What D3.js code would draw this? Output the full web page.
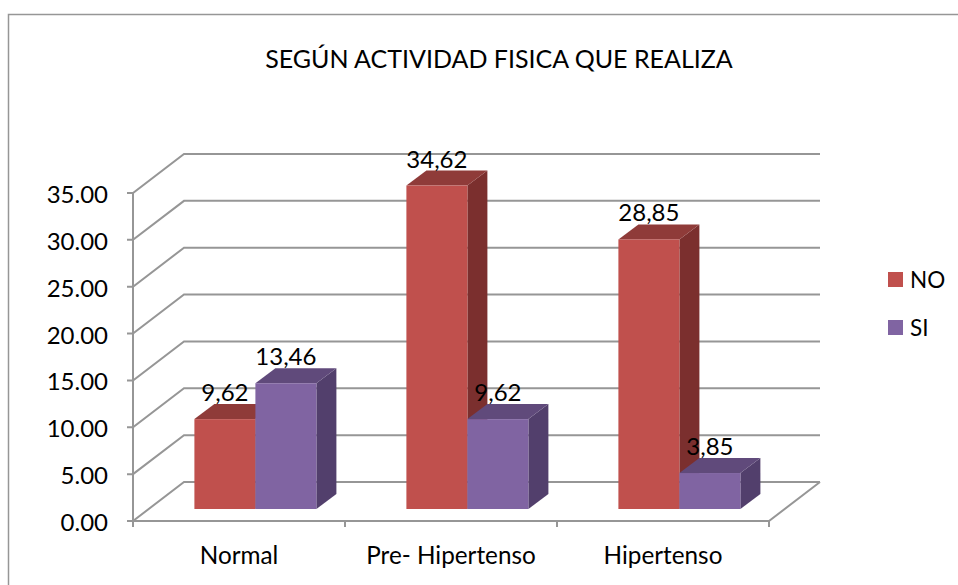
<!DOCTYPE html>
<html><head><meta charset="utf-8">
<script src="https://cdn.jsdelivr.net/npm/d3@7/dist/d3.min.js"></script>
<style>html,body{margin:0;padding:0;background:#fff;}svg{display:block;}text{font-family:Lato,"Open Sans",sans-serif;fill:#000;}</style>
</head><body><svg id="c" width="958" height="585"></svg>
<script>
const chartTitle = "SEGÚN ACTIVIDAD FISICA QUE REALIZA";
const categories = ["Normal", "Pre- Hipertenso", "Hipertenso"];
const seriesNames = ["NO", "SI"];
const noValues = [9.62, 34.62, 28.85];
const siValues = [13.46, 9.62, 3.85];
const noLabels = ["9,62", "34,62", "28,85"];
const siLabels = ["13,46", "9,62", "3,85"];
const yTicks = [0, 5, 10, 15, 20, 25, 30, 35];

const colors = {
  NO: {front:"#C0504D", top:"#8F3B39", side:"#7B2F2E"},
  SI: {front:"#8064A2", top:"#604A7B", side:"#523F6C"}
};
const grid = "#969696";
const svg = d3.select("#c");

// frame
svg.append("path").attr("d","M8.5,585V14.5H958").attr("fill","none").attr("stroke",grid).attr("stroke-width",1.5);

const wallDx = 51, wallDy = -39, barDx = 20, barDy = -15;
const y = d3.scaleLinear().domain([0,35]).range([521,193]);
const x = d3.scaleBand().domain(categories).range([133,769]);
const gridG = svg.append("g").attr("fill","none").attr("stroke",grid).attr("stroke-width",2);

// Walls and gridlines
yTicks.forEach(t=>{
  const p = d3.path();
  p.moveTo(127,y(t)); p.lineTo(133,y(t));
  p.lineTo(133+wallDx,y(t)+wallDy); p.lineTo(820,y(t)+wallDy);
  gridG.append("path").attr("d",p.toString());
});
gridG.append("path").attr("d",`M133,${y(35)}V527`);
gridG.append("path").attr("d",`M133,${y(0)}H769L820,${y(0)+wallDy}`);
categories.forEach(c=>gridG.append("path").attr("d",`M${x(c)+x.bandwidth()},${y(0)}V527`));

// tick labels
svg.append("g").selectAll("text").data(yTicks).join("text")
  .attr("x",108).attr("y",d=>y(d)+10).attr("text-anchor","end").attr("font-size",24)
  .text(d=>d3.format(".2f")(d));
svg.append("g").selectAll("text").data(categories).join("text")
  .attr("x",c=>x(c)+x.bandwidth()/2).attr("y",564).attr("text-anchor","middle").attr("font-size",24.3)
  .text(c=>c);

// bars
const baseY = y(0)-12, floorDx = 16.4;
const sub = d3.scaleBand().domain(seriesNames).range([0,122]);
const barY = d3.scaleLinear().domain([0,35]).range([baseY,baseY-327]);
const rows = [];
categories.forEach((c,i)=>{
  rows.push({s:"NO",c,i,v:noValues[i],label:noLabels[i]});
  rows.push({s:"SI",c,i,v:siValues[i],label:siLabels[i]});
});
const barG = svg.append("g");
function draw3d(d){
  const x0 = x(d.c)+floorDx+45+sub(d.s), w = sub.bandwidth();
  const y0 = barY(d.v), col = colors[d.s];
  const g = barG.append("g");
  g.append("polygon").attr("fill",col.side)
    .attr("points",[[x0+w,y0],[x0+w+barDx,y0+barDy],[x0+w+barDx,baseY+barDy],[x0+w,baseY]].join(" "));
  g.append("polygon").attr("fill",col.top)
    .attr("points",[[x0,y0],[x0+barDx,y0+barDy],[x0+w+barDx,y0+barDy],[x0+w,y0]].join(" "));
  g.append("rect").attr("x",x0).attr("y",y0).attr("width",w).attr("height",baseY-y0).attr("fill",col.front);
}
rows.forEach(draw3d);
svg.append("g").selectAll("text").data(rows).join("text")
  .attr("x",d=>x(d.c)+floorDx+45+sub(d.s)+sub.bandwidth()/2)
  .attr("y",d=>barY(d.v)-18).attr("text-anchor","middle").attr("font-size",24)
  .text(d=>d.label);

// title
svg.append("text").attr("x",499).attr("y",68).attr("text-anchor","middle").attr("font-size",25).text(chartTitle);

// legend
const leg = svg.append("g").selectAll("g").data(seriesNames).join("g")
  .attr("transform",(d,i)=>`translate(888,${272+i*48})`);
leg.append("rect").attr("width",15).attr("height",15).attr("fill",d=>colors[d].front);
leg.append("text").attr("x",22).attr("y",16).attr("font-size",22.5).text(d=>d);
</script></body></html>
